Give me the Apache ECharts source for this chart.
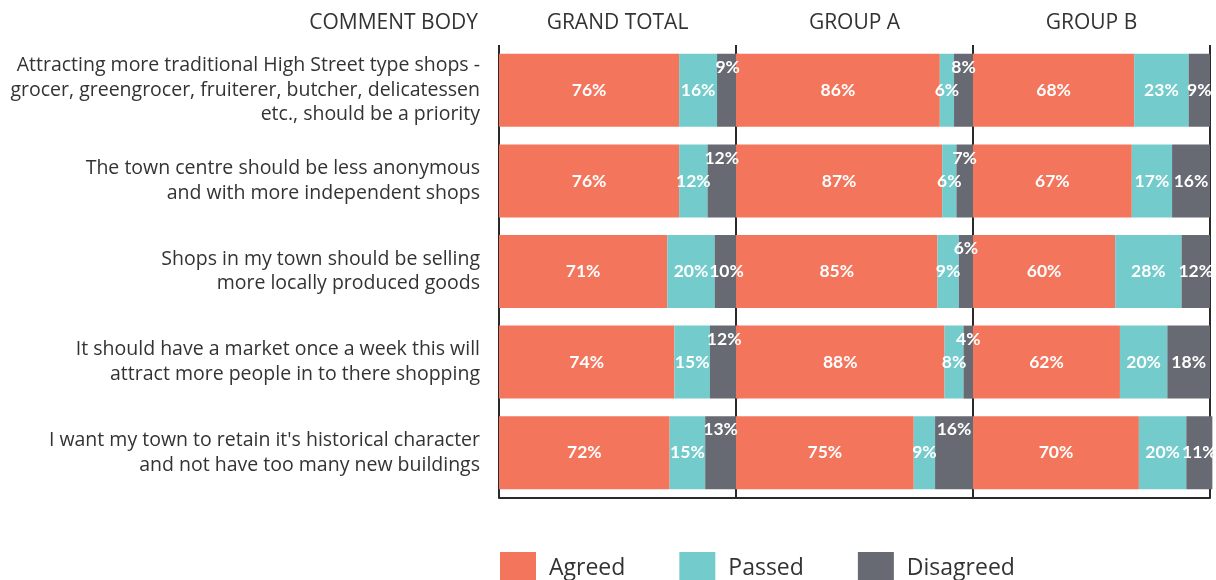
<!DOCTYPE html>
<html>
<head>
<meta charset="utf-8">
<script src="https://cdn.jsdelivr.net/npm/echarts@6/dist/echarts.min.js"></script>
<style>
  html, body { margin: 0; padding: 0; background: #fff; }
  #chart { width: 1216px; height: 580px; }
</style>
</head>
<body>
<div id="chart"></div>
<script>
// comments, top to bottom
var categories = [
    "Attracting more traditional High Street type shops -\ngrocer, greengrocer, fruiterer, butcher, delicatessen\netc., should be a priority",
    "The town centre should be less anonymous\nand with more independent shops",
    "Shops in my town should be selling\nmore locally produced goods",
    "It should have a market once a week this will\nattract more people in to there shopping",
    "I want my town to retain it's historical character\nand not have too many new buildings"
]
var panels = ["GRAND TOTAL", "GROUP A", "GROUP B"]
var seriesNames = ["Agreed", "Passed", "Disagreed"]

var totalAgreed = [76, 76, 71, 74, 72]
var totalPassed = [16, 12, 20, 15, 15]
var totalDisagreed = [9, 12, 10, 12, 13]

var groupAAgreed = [86, 87, 85, 88, 75]
var groupAPassed = [6, 6, 9, 8, 9]
var groupADisagreed = [8, 7, 6, 4, 16]

var groupBAgreed = [68, 67, 60, 62, 70]
var groupBPassed = [23, 17, 28, 20, 20]
var groupBDisagreed = [9, 16, 12, 18, 11]

var panelData = [
    [totalAgreed, totalPassed, totalDisagreed],
    [groupAAgreed, groupAPassed, groupADisagreed],
    [groupBAgreed, groupBPassed, groupBDisagreed]
]

var colors = ["#F3765C", "#74CBCC", "#676A72"]
var lineColor = "#2a2a2a"
var textFont = "'Open Sans', Lato, sans-serif"
var labelFont = "Lato, 'Open Sans', sans-serif"

var panelLeft = 499
var panelWidth = 237
var gridTop = 45
var gridHeight = 453

var myChart = echarts.init(document.getElementById('chart'));

var option = {
    animation: false,
    grid: [],
    xAxis: [],
    yAxis: [],
    series: [],
    legend: {
        data: seriesNames,
        left: 495,
        top: 547,
        icon: 'rect',
        itemWidth: 36,
        itemHeight: 33,
        itemGap: 54,
        textStyle: { fontFamily: textFont, fontSize: 23, color: '#333', padding: [0, 0, 0, 8] }
    },
    graphic: [{
        type: 'text',
        x: 478, y: 23,
        style: { text: 'COMMENT BODY', align: 'right', verticalAlign: 'middle',
                 font: '21px ' + textFont, fill: '#333' }
    }]
}

for (var p = 0; p < panels.length; p++){
    var left = panelLeft + p * panelWidth
    option.grid.push({ left: left, top: gridTop, width: panelWidth, height: gridHeight })
    option.graphic.push({
        type: 'text',
        x: left + panelWidth / 2, y: 23,
        style: { text: panels[p], align: 'center', verticalAlign: 'middle',
                 font: '21px ' + textFont, fill: '#333' }
    })
    option.xAxis.push({
        type: 'value', gridIndex: p,
        min: 0, max: 100, interval: 100,
        axisLabel: { show: false },
        axisTick: { show: false },
        axisLine: { show: true, lineStyle: { color: lineColor, width: 2 } },
        splitLine: { show: true, lineStyle: { color: lineColor, width: 2 } }
    })
    option.yAxis.push({
        type: 'category', gridIndex: p, inverse: true,
        data: categories,
        axisLine: { show: false },
        axisTick: { show: false },
        axisLabel: {
            show: p === 0,
            margin: 19,
            align: 'right',
            fontFamily: textFont, fontSize: 19.5, lineHeight: 24.5, color: '#333',
            padding: [0, 0, 24, 0]
        }
    })

    var vals = panelData[p]
    for (var s = 0; s < seriesNames.length; s++){
        var data = []
        for (var i = 0; i < categories.length; i++){
            var one = { value: vals[s][i] }
            // small disagreed segment next to small passed one: lift its label
            if (s === 2 && vals[1][i] + vals[2][i] < 29){
                one.label = { offset: [0, -23] }
            }
            data.push(one)
        }
        option.series.push({
            name: seriesNames[s],
            type: 'bar',
            xAxisIndex: p,
            yAxisIndex: p,
            stack: 'panel' + p,
            barWidth: 73,
            clip: false,
            itemStyle: { color: colors[s] },
            label: {
                show: true,
                position: 'inside',
                formatter: '{c}%',
                color: '#fff',
                fontFamily: labelFont,
                fontWeight: 'bold',
                fontSize: 17.5
            },
            data: data
        })
    }
}

myChart.setOption(option);
</script>
</body>
</html>
